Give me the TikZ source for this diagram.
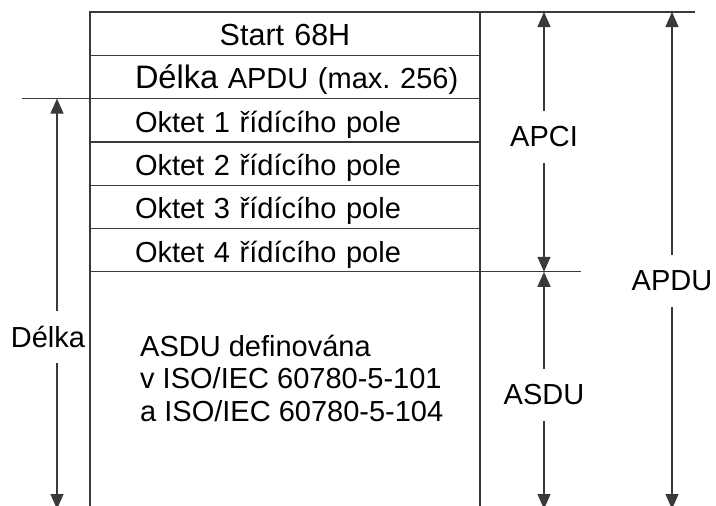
\documentclass[tikz,border=0pt]{standalone}
\usepackage{fontspec}
\setmainfont{Liberation Sans}
\usepackage{xcolor}
\usetikzlibrary{arrows.meta,positioning}
\definecolor{lineGray}{HTML}{3A3A3A}
\newcommand{\fieldfont}{\fontsize{29}{32.5}\selectfont}
\newcommand{\bigfieldfont}{\fontsize{32.5}{36}\selectfont}
\newcommand{\startfont}{\fontsize{30.5}{34}\selectfont}

\begin{document}
\begin{tikzpicture}[x=1pt, y=-1pt,
  every node/.style={font=\fieldfont},
  field/.style={draw=lineGray, line width=1.2pt, outer sep=0pt, minimum width=390pt, minimum height=43.3pt,
    inner xsep=45pt, inner ysep=0pt, text width=300pt, align=left, text height=26pt, text depth=2pt},
  dimline/.style={draw=lineGray, line width=1.2pt},
  dimarrow/.style={dimline, -{Triangle[width=13pt,length=15pt]}},
  dimlabel/.style={inner sep=0pt, minimum height=52pt}]
\useasboundingbox (0,0) rectangle (716,506);
\node[field, align=center, anchor=north west, font=\startfont] (start) at (90,12) {Start 68H};
\node[field, below=0pt of start] (length) {\mbox{{\bigfieldfont Délka} APDU (max.\ 256)}};
\node[field, below=0pt of length] (o1) {Oktet 1 řídícího pole};
\node[field, below=0pt of o1] (o2) {Oktet 2 řídícího pole};
\node[field, below=0pt of o2] (o3) {Oktet 3 řídícího pole};
\node[field, below=0pt of o3] (o4) {Oktet 4 řídícího pole};
\node[anchor=west, align=left, inner sep=0pt] (asdutext) at (140,378) {ASDU definována\\v ISO/IEC 60780-5-101\\a ISO/IEC 60780-5-104};
\coordinate (bottom) at (0,509);
\coordinate (delkaline) at (57,0);
\node[dimlabel] (delka) at (48,337) {Délka};
\node[dimlabel] (apci) at (544,137) {APCI};
\node[dimlabel] (asdu) at (544,395) {ASDU};
\node[dimlabel] (apdu) at (672,281) {APDU};
\draw[dimline] (start.north west) -- (start.north west |- bottom);
\draw[dimline] (start.north east) -- (start.north east |- bottom);
\draw[dimline] (start.north east) -- ([xshift=215pt]start.north east);
\draw[dimline] (o1.north west) -- ([xshift=-68pt]o1.north west);
\draw[dimline] (o4.south east) -- ([xshift=101pt]o4.south east);
\draw[dimarrow] (delkaline |- delka.north) -- (delkaline |- o1.north);
\draw[dimarrow] (delkaline |- delka.south) -- (delkaline |- bottom);
\draw[dimarrow] (apci.north) -- (apci.north |- start.north);
\draw[dimarrow] (apci.south) -- (apci.south |- o4.south);
\draw[dimarrow] (asdu.north) -- (asdu.north |- o4.south);
\draw[dimarrow] (asdu.south) -- (asdu.south |- bottom);
\draw[dimarrow] (apdu.north) -- (apdu.north |- start.north);
\draw[dimarrow] (apdu.south) -- (apdu.south |- bottom);
\end{tikzpicture}
\end{document}
